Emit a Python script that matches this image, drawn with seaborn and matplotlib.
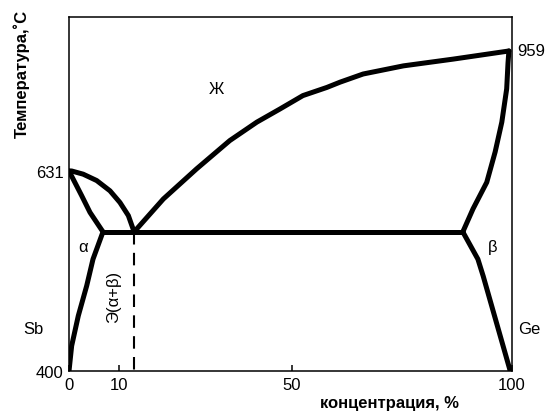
import matplotlib
matplotlib.use("Agg")
import matplotlib.pyplot as plt
import seaborn as sns
import pandas as pd

# Schematic Sb–Ge phase diagram; x = concentration (%), y = schematic height (0..100)
liq_left_x = [0.0, 0.6, 3.2, 6.25, 9.25, 11.5, 13.4, 14.7]
liq_left_y = [56.5, 56.5, 55.6, 53.8, 50.9, 47.6, 43.9, 39.3]

sol_left_x = [0.0, 2.87, 4.74, 7.67]
sol_left_y = [56.5, 49.5, 44.8, 39.3]

solv_left_x = [7.67, 5.42, 4.0, 2.1, 0.6, 0.0]
solv_left_y = [39.3, 31.6, 24.1, 15.6, 7.1, 0.0]

eut_x = [7.67, 88.9]
eut_y = [39.3, 39.3]

liq_right_x = [14.7, 21.3, 28.8, 36.3, 42.4, 47.6, 52.8, 58.2, 61.2, 66.4, 75.5, 86.7, 99.3]
liq_right_y = [39.3, 48.6, 57.1, 65.1, 70.3, 74.0, 77.8, 80.1, 81.6, 83.9, 86.2, 88.1, 90.4]

sol_right_x = [88.9, 91.2, 94.3, 96.2, 97.7, 98.8, 99.1, 99.3]
sol_right_y = [39.3, 45.8, 53.3, 61.9, 70.3, 79.7, 87.0, 90.4]

solv_right_x = [88.9, 92.3, 93.5, 99.6]
solv_right_y = [39.3, 31.6, 26.8, 0.0]

eutectic_x = 14.7

xtick_pos = [0, 11.3, 50.3, 100]
xtick_labels = ["0", "10", "50", "100"]
ytick_pos = [0, 56.5]
ytick_labels = ["400", "631"]
t_max_label = "959"

sns.set_theme(style="white")
plt.rcParams["font.family"] = ["Liberation Sans", "DejaVu Sans"]
plt.rcParams["text.color"] = "black"

fig = plt.figure(figsize=(5.49, 4.14), dpi=100)
ax = fig.add_axes([69/549, 1 - 372/414, (512-69)/549, (372-18)/414])

curves = [(liq_left_x, liq_left_y), (sol_left_x, sol_left_y), (solv_left_x, solv_left_y),
          (eut_x, eut_y), (liq_right_x, liq_right_y), (sol_right_x, sol_right_y),
          (solv_right_x, solv_right_y)]
for cx, cy in curves:
    df = pd.DataFrame({"x": cx, "y": cy})
    sns.lineplot(data=df, x="x", y="y", sort=False, estimator=None, color="black",
                 lw=3.6, ax=ax, solid_capstyle="round", solid_joinstyle="round")

ax.plot([eutectic_x, eutectic_x], [eut_y[0], 0], color="black", lw=1.5,
        dashes=(6, 4))

ax.set_xlim(0, 100)
ax.set_ylim(0, 100)
ax.set_xticks(xtick_pos)
ax.set_xticklabels(xtick_labels, fontsize=12)
ax.set_yticks(ytick_pos)
ax.set_yticklabels(ytick_labels, fontsize=12)
ax.tick_params(axis="x", bottom=True, direction="in", length=4, width=1.1, pad=4,
               colors="black")
ax.tick_params(axis="y", left=False, length=0, pad=4, colors="black")
for s in ax.spines.values():
    s.set_color("black")
    s.set_linewidth(1.1)
ax.set_xlabel("")
ax.set_ylabel("")

fig.text(390/549, 1 - 404/414, "концентрация, %", ha="center", va="center",
         fontsize=12, fontweight="bold")
fig.text(22/549, 1 - 74/414, "Температура,˚С", ha="center", va="center",
         rotation=90, fontsize=12, fontweight="bold")

ax.text(101.1, 90.4, t_max_label, ha="left", va="center", fontsize=12, clip_on=False)
ax.text(33.3, 79.7, "Ж", ha="center", va="center", fontsize=12)
ax.text(3.2, 37.3, "α", ha="center", va="top", fontsize=12)
ax.text(95.7, 37.3, "β", ha="center", va="top", fontsize=12)
ax.text(-8.1, 11.9, "Sb", ha="center", va="center", fontsize=12, clip_on=False)
ax.text(104.0, 11.9, "Ge", ha="center", va="center", fontsize=12, clip_on=False)
ax.text(10.0, 21.2, "Э(α+β)", ha="center", va="center", rotation=90, fontsize=12)

fig.savefig("out.png", dpi=100)
